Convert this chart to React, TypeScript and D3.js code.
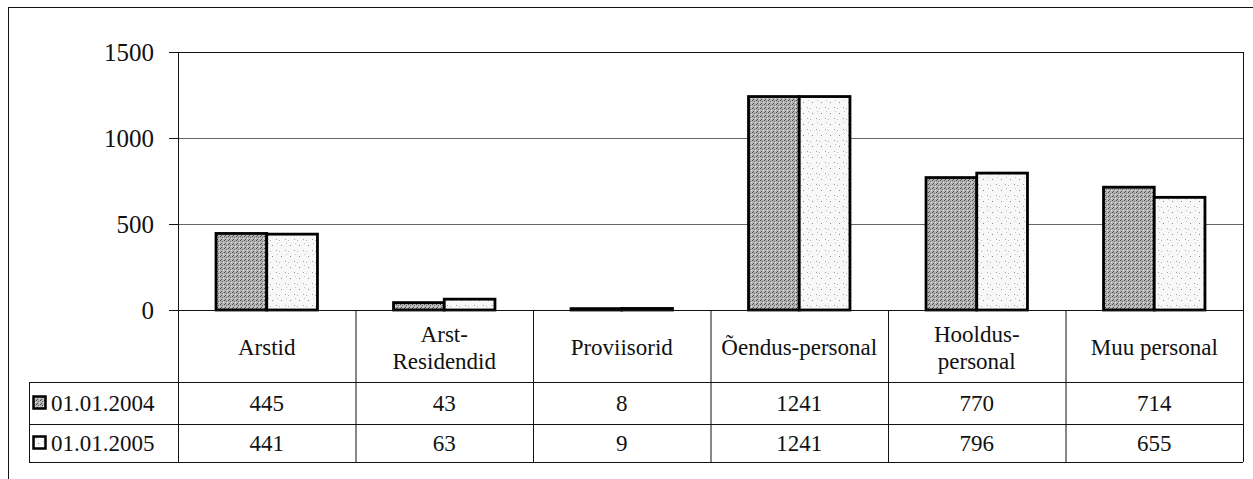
import React from 'react'
import * as d3 from 'd3'

const categories = ['Arstid', 'Arst-Residendid', 'Proviisorid', 'Õendus-personal', 'Hooldus-personal', 'Muu personal']
const categoryLines = [['Arstid'], ['Arst-', 'Residendid'], ['Proviisorid'], ['Õendus-personal'], ['Hooldus-', 'personal'], ['Muu personal']]
const seriesNames = ['01.01.2004', '01.01.2005']
const values2004 = [445, 43, 8, 1241, 770, 714]
const values2005 = [441, 63, 9, 1241, 796, 655]
const yTicks = [0, 500, 1000, 1500]

const W = 1253
const H = 479
const font = 'Liberation Serif, DejaVu Serif, serif'

export default function App() {
  const plot = { left: 178, right: 1243, top: 52, bottom: 310 }
  const table = { left: 29, row0: 382, row1: 424, row2: 462 }

  const x = d3.scaleBand<string>().domain(categories).range([plot.left, plot.right])
  // Excel-like gap width 150%: two bars + 1.5 bar widths of gap
  const inner = d3.scaleBand<string>().domain(seriesNames).range([0, x.bandwidth()]).paddingInner(0).paddingOuter(0.75)
  const y = d3.scaleLinear().domain([0, 1500]).range([plot.bottom, plot.top])

  const series = [values2004, values2005]
  const fills = ['url(#pat2004)', 'url(#pat2005)']

  const rowMid = [(table.row0 + table.row1) / 2, (table.row1 + table.row2) / 2]
  const txt = { fontFamily: font, fill: '#111' }

  return (
    <div style={{ position: 'absolute', left: 0, top: 0 }}>
      <svg width={W} height={H} style={{ display: 'block', background: '#fff' }}>
        <defs>
          <pattern id="pat2004" width="4" height="4" patternUnits="userSpaceOnUse">
            <rect width="4" height="4" fill="#b4b4b4" />
            <rect x="0" y="0" width="1" height="1" fill="#4a4a4a" />
            <rect x="2" y="1" width="1" height="1" fill="#666" />
            <rect x="1" y="3" width="1" height="1" fill="#555" />
            <rect x="3" y="2" width="1" height="1" fill="#e0e0e0" />
          </pattern>
          <pattern id="pat2005" width="9" height="11" patternUnits="userSpaceOnUse">
            <rect width="9" height="11" fill="#f8f8f8" />
            <rect x="2" y="3" width="1" height="1" fill="#8a8a8a" />
            <rect x="6" y="8" width="1" height="1" fill="#a0a0a0" />
            <rect x="7" y="1" width="1" height="1" fill="#c4c4c4" />
            <rect x="0" y="9" width="1" height="1" fill="#b8b8b8" />
          </pattern>
        </defs>

        {/* outer frame */}
        <line x1={8} x2={W} y1={7.5} y2={7.5} stroke="#111" strokeWidth={1} />
        <line x1={8.5} x2={8.5} y1={7} y2={H} stroke="#111" strokeWidth={1} />

        {/* gridlines */}
        {yTicks.filter(t => t > 0 && t < 1500).map(t => (
          <line key={t} x1={plot.left} x2={plot.right} y1={y(t) + 0.5} y2={y(t) + 0.5} stroke="#666" strokeWidth={1} />
        ))}
        <line x1={plot.left} x2={plot.right} y1={y(1500) + 0.5} y2={y(1500) + 0.5} stroke="#111" strokeWidth={1} />

        {/* y ticks + labels */}
        {yTicks.map(t => (
          <g key={t}>
            <line x1={plot.left - 9} x2={plot.left} y1={y(t) + 0.5} y2={y(t) + 0.5} stroke="#111" />
            <text x={plot.left - 24} y={y(t)} dy="0.35em" textAnchor="end" fontSize={25} style={txt}>{t}</text>
          </g>
        ))}

        {/* bars */}
        {series.map((vals, si) => (
          <g key={si}>
            {vals.map((v, i) => {
              const bx = (x(categories[i]) as number) + (inner(seriesNames[si]) as number)
              return (
                <rect key={i} x={bx} y={y(v)} width={inner.bandwidth()} height={plot.bottom - y(v)}
                  fill={fills[si]} stroke="#000" strokeWidth={2.8} />
              )
            })}
          </g>
        ))}

        {/* axes lines */}
        <line x1={plot.left - 9} x2={plot.right} y1={plot.bottom + 0.5} y2={plot.bottom + 0.5} stroke="#111" strokeWidth={1} />
        <line x1={plot.left + 0.5} x2={plot.left + 0.5} y1={plot.top} y2={table.row2} stroke="#111" />
        <line x1={plot.right + 0.5} x2={plot.right + 0.5} y1={plot.top} y2={table.row2} stroke="#111" />

        {/* data table */}
        {[table.row0, table.row1, table.row2].map(r => (
          <line key={r} x1={table.left} x2={plot.right} y1={r + 0.5} y2={r + 0.5} stroke="#111" />
        ))}
        <line x1={table.left + 0.5} x2={table.left + 0.5} y1={table.row0} y2={table.row2} stroke="#111" />
        {categories.slice(1).map(c => (
          <line key={c} x1={(x(c) as number) + 0.5} x2={(x(c) as number) + 0.5} y1={plot.bottom} y2={table.row2} stroke="#111" />
        ))}

        {categories.map((c, i) => {
          const cx = (x(c) as number) + x.bandwidth() / 2
          const lines = categoryLines[i]
          const mid = (plot.bottom + table.row0) / 2 + 1
          return (
            <text key={c} x={cx} textAnchor="middle" fontSize={23} style={txt}>
              {lines.map((l, j) => (
                <tspan key={j} x={cx} y={mid + (j - (lines.length - 1) / 2) * 27} dy="0.35em">{l}</tspan>
              ))}
            </text>
          )
        })}

        {series.map((vals, si) => (
          <g key={si}>
            <rect x={table.left + 4.5} y={rowMid[si] - 6.5} width={12} height={12} fill={fills[si]} stroke="#000" strokeWidth={2.5} />
            <text x={table.left + 22} y={rowMid[si]} dy="0.35em" fontSize={23} style={txt}>{seriesNames[si]}</text>
            {vals.map((v, i) => (
              <text key={i} x={(x(categories[i]) as number) + x.bandwidth() / 2} y={rowMid[si]} dy="0.35em"
                textAnchor="middle" fontSize={23} style={txt}>{v}</text>
            ))}
          </g>
        ))}
      </svg>
    </div>
  )
}
